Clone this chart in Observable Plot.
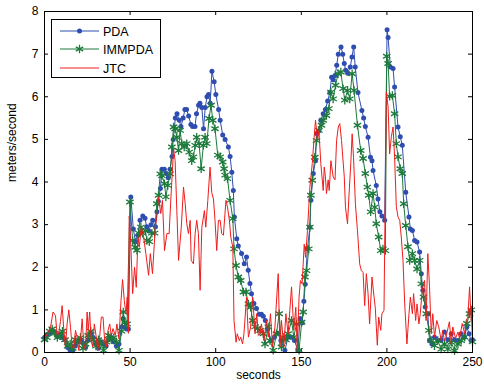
<!DOCTYPE html>
<html>
<head>
<meta charset="utf-8">
<script src="https://cdn.jsdelivr.net/npm/d3@7"></script>
<script src="https://cdn.jsdelivr.net/npm/@observablehq/plot@0.6"></script>
<style>
  html, body { margin: 0; padding: 0; background: #fff; }
  #wrap { position: relative; width: 484px; height: 385px; font-family: "Liberation Sans", Arial, sans-serif; }
  #legend { position: absolute; left: 51px; top: 19px; }
</style>
</head>
<body>
<div id="wrap"><div id="chart"></div><div id="legend"></div></div>
<script>
// ---- data ----
const seriesNames = ["PDA", "IMMPDA", "JTC"];
const xTicks = [0, 50, 100, 150, 200, 250];
const yTicks = [0, 1, 2, 3, 4, 5, 6, 7, 8];

const pdaT = [0,1.5,3,4.5,6,7.5,9,10.5,12,13.5,15,16.5,18,19.5,21,22.5,24,25.5,27,28.5,30,31.5,33,34.5,36,37.5,39,40.5,42,43.5,45,46,47,48,49,
50.4,51.9,53.1,54.5,55.8,57.4,58.7,59.7,60.9,62.2,63.2,64.8,65.7,66.5,67.7,68.6,70,71,72.3,73.3,74.5,75.2,76.4,77.4,78.7,79.7,81,82,83,84.2,85.5,86.5,87.9,88.8,90,90.8,91.9,92.9,93.9,94.9,95.8,96.8,97.8,99.1,100.1,101.7,
102.6,104.1,105.5,107.4,108.4,109.4,110.3,110.9,112.3,113.2,115.1,116.7,118,119,120,120.9,122.3,123.8,125.4,126.7,127.8,129,130.4,132.3,134.3,136.2,138.1,140.4,142.3,144.2,146,148,149.3,150.5,151.5,152.3,153.6,155,155.6,157,158.3,158.9,160.3,161.4,162.8,164.1,165.4,166.7,167.7,168.7,169.7,170.7,171.6,173.2,174.2,175.1,175.9,177.1,178.6,179.6,180.6,181.5,183.1,185.4,186.4,187.4,189,190.4,191.3,191.9,193.8,194.8,195.9,197.1,198.7,
200.1,200.7,202,203.6,204.5,206.5,207.8,209,211,212.9,213.7,214.9,216.2,217.6,219.1,220.1,221,222.4,223.9,224.9,226.3,227.8,229.7,231.7,233.6,235.6,237.6,239.5,241.6,243.4,245.3,246.7,248,249.1,250];
const pdaV = [0.35,0.42,0.45,0.5,0.48,0.38,0.42,0.35,0.3,0.12,0.05,0.04,0.15,0.25,0.3,0.22,0.12,0.3,0.45,0.35,0.2,0.1,0.25,0.2,0.15,0.3,0.35,0.25,0.15,0.2,0.6,0.8,0.6,0.55,0.55,
3.65,2.9,2.6,2.75,3.1,3.2,3.15,2.95,2.85,3.0,3.1,2.95,3.3,3.55,3.85,4.3,4.3,4.2,4.1,4.3,4.6,5.0,5.5,5.6,5.45,5.3,5.5,5.7,5.7,5.55,5.35,5.3,5.3,5.6,5.8,5.85,5.75,5.25,5.75,6.0,6.05,5.85,6.6,6.35,6.05,5.7,
5.45,5.1,5.0,4.82,4.6,4.23,3.8,3.18,2.67,2.5,2.32,2.08,2.24,1.93,1.62,1.38,1.15,1.03,0.9,0.9,0.85,0.75,0.55,0.28,0.36,0.45,0.28,0.05,0.36,0.36,0.28,0.05,0.8,0.7,1.2,1.6,2.44,2.94,3.57,4.2,4.5,5.14,5.2,5.45,5.6,5.7,5.9,6.1,6.46,6.4,6.5,6.74,7.0,7.17,7.0,6.78,6.62,6.55,6.7,6.93,7.17,6.7,6.1,5.68,5.5,5.3,5.05,4.58,4.5,4.27,3.92,3.6,3.3,3.2,3.1,
7.57,7.39,6.7,6.66,6.23,5.29,5.06,4.86,3.76,3.18,2.9,2.86,2.63,2.59,2.36,1.85,1.46,1.07,0.91,0.28,0.2,0.36,0.28,0.3,0.48,0.3,0.44,0.3,0.28,0.44,0.36,0.6,0.44,0.28,0.3];

const immT = [0,1.5,3,4.5,6,7.5,9,10.5,12,13.5,15,16.5,18,19.5,21,22.5,24,25.5,27,28.5,30,31.5,33,34.5,36,37.5,39,40.5,42,43.5,45,46,47,48.2,
49.9,51.5,53,54,55,56.3,57.3,58.9,59.8,61.2,62.7,64.3,65.6,66.6,67.6,68.6,70.1,70.9,72,73.4,74.4,75.4,76.3,77.3,78.3,79.2,80.2,81.6,83.1,84.5,86,87,88,88.9,90.3,91.5,92.8,93.8,94.8,96.1,97.3,98.3,99.6,
101.2,102.6,104.1,104.9,105.5,106.9,108.4,110,110.7,111.9,113.2,114.6,116.2,117.7,119.1,120.4,121.6,123,124.5,125.9,127.8,128.8,130.7,131.7,133.6,135.5,137.1,138.4,139.4,141,142.3,144.3,145.6,147.2,148.7,150.2,151.1,152.1,153.1,154.4,155,155.6,156.4,157.9,158.9,160.3,161.8,162.8,164.7,166.1,167.3,168.6,170,171.5,173.1,174.4,175.4,177,178.3,179.7,180.8,182.8,184.7,186.1,187.4,188.6,189.4,190.5,191.9,192.9,193.8,195.2,196.4,197.7,199.1,
199.9,200.7,201.6,203.2,204.5,205.5,206.5,207.8,209,209.8,211,212.3,213.3,214.9,216.2,217.6,219.1,220.1,221.4,223,224.5,225.9,227.8,229.7,231.7,233.6,235.6,237.6,239.5,241.5,243.4,245.4,246.7,248.3,249.3,250];
const immV = [0.3,0.35,0.5,0.55,0.45,0.35,0.4,0.5,0.3,0.15,0.2,0.1,0.3,0.25,0.35,0.1,0.2,0.4,0.5,0.3,0.15,0.3,0.2,0.05,0.25,0.4,0.3,0.35,0.25,0.05,0.5,0.95,0.7,0.67,
3.53,2.63,2.47,2.4,2.8,2.94,2.8,2.86,2.63,2.6,2.8,2.8,3.49,3.69,4.19,4.15,3.96,3.65,3.92,4.19,4.82,5.29,5.25,5.05,4.74,5.21,4.9,4.82,4.9,4.7,4.5,4.59,4.86,5.05,4.9,4.31,4.86,5.05,4.9,5.49,5.8,5.45,5.25,
4.63,4.59,4.47,4.31,4.16,4.08,3.57,3.14,2.43,2.04,1.77,1.69,1.42,1.42,1.14,1.06,0.75,0.6,0.56,0.52,0.44,0.2,0.6,0.28,0.05,0.44,0.91,0.13,0.36,0.3,0.44,0.75,0.36,0.67,0.05,0.71,0.95,1.77,1.92,2.43,2.94,3.69,4.04,4.58,4.97,5.21,5.33,5.45,5.56,5.72,6.11,5.95,6.27,6.54,6.58,6.19,5.92,6.15,5.95,6.54,6.15,5.33,4.74,4.55,4.2,3.88,3.69,3.3,3.73,3.41,3.02,2.71,2.39,2.43,2.39,
6.95,6.78,6.01,6.03,5.6,4.9,4.59,4.31,4.2,3.49,2.98,2.48,2.16,2.32,2.16,1.96,2.16,1.61,1.3,0.91,0.52,0.28,0.16,0.28,0.08,0.2,0.08,0.24,0.04,0.2,0.28,0.36,0.68,0.91,1.0,0.25];

const jtcT = [0,1.6,3.5,5,6.4,7.4,8.3,9.3,10.3,11.3,12.2,13.2,14.2,15.2,16.1,17.1,18.1,19,20,21,22,22.9,23.9,24.9,25.5,26.4,27.2,28.2,29.1,30.1,31.1,32.2,33.2,34.2,35.2,36.1,37.1,38.1,39,40,41.4,42.3,43.5,44.7,45.6,46.6,47.6,48.3,49,
49.5,50.3,51.5,52.6,53.6,54.6,55.4,56.5,57.9,59.2,60.8,61.8,63.1,64.7,65.6,66.6,67.9,68.9,70.1,71.5,72.8,73.8,75.4,76.3,77.3,78.3,79.9,81.2,82.2,83.1,84.1,85.1,85.7,87,88,88.9,89.9,90.9,91.9,93.4,94.2,95.4,96.7,97.7,98.7,99.6,
100.6,101.6,102.6,103.5,104.5,106,106.9,108,108.8,110,110.7,111.9,112.6,113.8,114.6,115.7,116.5,118,119.1,120.4,121.6,123,124,124.9,125.9,126.7,128.2,129.7,130.7,132,133.2,134.6,136.5,137.5,138.4,139.8,141,142.3,143.3,144.3,145.6,146.8,147.6,148.7,149.5,
150.5,151.7,152.5,153.6,155,156.4,157.5,158.3,159.5,160.3,161.4,162.8,163.4,164.1,164.7,165.7,166.3,167.3,168.6,169.7,170.6,171.6,172.5,173.5,175.1,175.8,177,177.8,178.9,179.7,180.5,181.6,182.8,184.1,185.1,186.1,187,188,189,189.9,191.3,192.5,193.2,194.4,195.2,196.4,197.1,198.3,
199.7,200.7,201.6,202.6,203.6,204.5,205.5,206.5,207.5,208.4,209.4,210.4,211.7,212.9,213.7,214.9,215.6,216.8,217.6,218.7,219.5,220.6,222,222.9,223.9,224.9,225.9,226.8,227.8,229.1,230.3,231.7,232.6,233.6,234.5,236.5,237.6,238.5,240.1,241.5,242.4,244,245.4,246.3,247.3,248.3,249.2,250];
const jtcV = [0.3,0.44,0.59,0.95,0.87,0.4,0.45,0.72,1.1,0.52,0.13,0.67,1.0,0.59,0.13,0.1,0.52,0.36,0.05,0.28,0.79,0.2,0.05,0.95,0.52,0.95,0.28,0.13,0.67,0.4,0.05,0.36,0.83,0.83,0.24,0.13,0.52,0.67,0.4,0.56,0.4,0.67,0.32,1.22,1.71,1.22,0.91,1.3,0.45,
3.2,2.63,1.38,2.0,1.53,2.71,2.47,2.94,2.71,2.32,1.81,2.32,1.85,2.94,3.18,3.65,3.26,3.57,2.39,2.79,2.79,3.6,4.78,4.5,3.33,2.16,2.94,3.88,3.49,3.02,2.79,3.1,2.16,2.08,2.79,3.1,2.79,1.46,2.94,3.33,2.94,3.57,4.35,3.75,3.6,3.1,
2.39,3.1,3.1,2.79,2.75,3.57,3.41,3.1,2.71,2.47,0.75,0.24,0.44,0.28,0.36,0.2,0.44,1.3,0.36,0.6,1.3,0.44,0.91,0.4,0.44,0.67,0.28,0.75,0.36,0.91,0.13,0.6,1.85,0.13,0.75,0.13,0.91,0.44,0.99,1.54,0.52,1.06,0.05,1.3,1.69,
1.61,2.54,2.23,2.86,3.88,4.43,5.05,5.45,4.97,5.21,4.43,3.8,4.35,4.12,3.73,4.05,3.8,4.5,4.12,4.05,4.97,5.29,5.37,4.97,4.12,3.41,3.02,3.65,4.43,5.13,4.58,3.49,2.86,2.08,1.92,1.88,1.1,1.85,1.38,0.67,1.77,1.3,1.06,0.17,0.83,0.52,0.91,0.99,
6.11,5.76,4.66,5.06,5.29,4.59,3.42,3.18,3.1,2.71,2.16,1.14,0.2,0.91,1.3,0.91,1.38,0.75,1.14,0.67,0.91,1.46,1.69,0.75,2.32,1.54,0.44,0.91,0.36,0.75,0.6,0.28,0.52,0.28,0.36,0.72,0.2,0.6,0.33,0.48,0.33,0.68,0.44,0.75,0.83,1.54,0.75,0.9];

const colors = {PDA: "#2f4db0", IMMPDA: "#1c7a3a", JTC: "#f01c1c"};

const pda = pdaT.map((t, i) => ({t, v: pdaV[i]}));
const imm = immT.map((t, i) => ({t, v: immV[i]}));
const jtc = jtcT.map((t, i) => ({t, v: jtcV[i]}));

const W = 484, H = 385, mT = 11, mB = 33, mL = 44, mR = 12;
const innerH = H - mT - mB, innerW = W - mL - mR;
const tickLen = 4;
const font = "'Liberation Sans', Arial, sans-serif";

const chart = Plot.plot({
  width: W, height: H,
  marginTop: mT, marginBottom: mB, marginLeft: mL, marginRight: mR,
  style: {fontFamily: font, fontSize: "11.5px", background: "#fff", color: "#000"},
  x: {domain: [0, 250], ticks: xTicks},
  y: {domain: [0, 8], ticks: yTicks},
  marks: [
    Plot.axisX(xTicks, {tickSize: 0, tickPadding: 5, label: null, fontSize: 12}),
    Plot.axisY(yTicks, {tickSize: 0, tickPadding: 6, label: null, fontSize: 12}),
    // inward ticks on all four sides
    Plot.ruleX(xTicks, {x: d => d, stroke: "#000", insetTop: innerH - tickLen}),
    Plot.ruleX(xTicks, {x: d => d, stroke: "#000", insetBottom: innerH - tickLen}),
    Plot.ruleY(yTicks, {y: d => d, stroke: "#000", insetRight: innerW - tickLen}),
    Plot.ruleY(yTicks, {y: d => d, stroke: "#000", insetLeft: innerW - tickLen}),
    // series
    Plot.line(pda, {x: "t", y: "v", stroke: colors.PDA, strokeWidth: 1}),
    Plot.dot(pda, {x: "t", y: "v", r: 2.5, fill: colors.PDA, stroke: "none"}),
    Plot.line(imm, {x: "t", y: "v", stroke: colors.IMMPDA, strokeWidth: 1}),
    Plot.dot(imm, {x: "t", y: "v", r: 4, symbol: "asterisk", stroke: colors.IMMPDA, strokeWidth: 1.3, fill: "none"}),
    Plot.line(jtc, {x: "t", y: "v", stroke: colors.JTC, strokeWidth: 1}),
    Plot.frame({stroke: "#000", strokeWidth: 1}),
    Plot.text(["seconds"], {frameAnchor: "bottom", dy: 26, fontSize: 12, fill: "#000"}),
    Plot.text(["meters/second"], {frameAnchor: "left", dx: -32, rotate: -90, fontSize: 12, fill: "#000"})
  ]
});
document.getElementById("chart").appendChild(chart);

// legend (MATLAB-style box inside the axes)
const lg = d3.select("#legend").append("svg").attr("width", 111).attr("height", 60);
lg.append("rect").attr("x", 0.5).attr("y", 0.5).attr("width", 109).attr("height", 58)
  .attr("fill", "#fff").attr("stroke", "#000");
const rowY = [12, 30, 49];
seriesNames.forEach((name, i) => {
  const g = lg.append("g").attr("transform", `translate(0,${rowY[i]})`);
  g.append("line").attr("x1", 9).attr("x2", 48).attr("y1", 0).attr("y2", 0)
    .attr("stroke", colors[name]).attr("stroke-width", 1);
  if (name === "PDA") {
    g.append("circle").attr("cx", 28.5).attr("cy", 0).attr("r", 2.5).attr("fill", colors[name]);
  } else if (name === "IMMPDA") {
    g.append("path").attr("transform", "translate(28.5,0)")
      .attr("d", d3.symbol(d3.symbolAsterisk, Math.PI * 16)())
      .attr("fill", "none").attr("stroke", colors[name]).attr("stroke-width", 1.3);
  }
  g.append("text").attr("x", 52).attr("y", 0).attr("dy", "0.36em")
    .attr("font-family", font).attr("font-size", 12.5).text(name);
});
</script>
</body>
</html>
